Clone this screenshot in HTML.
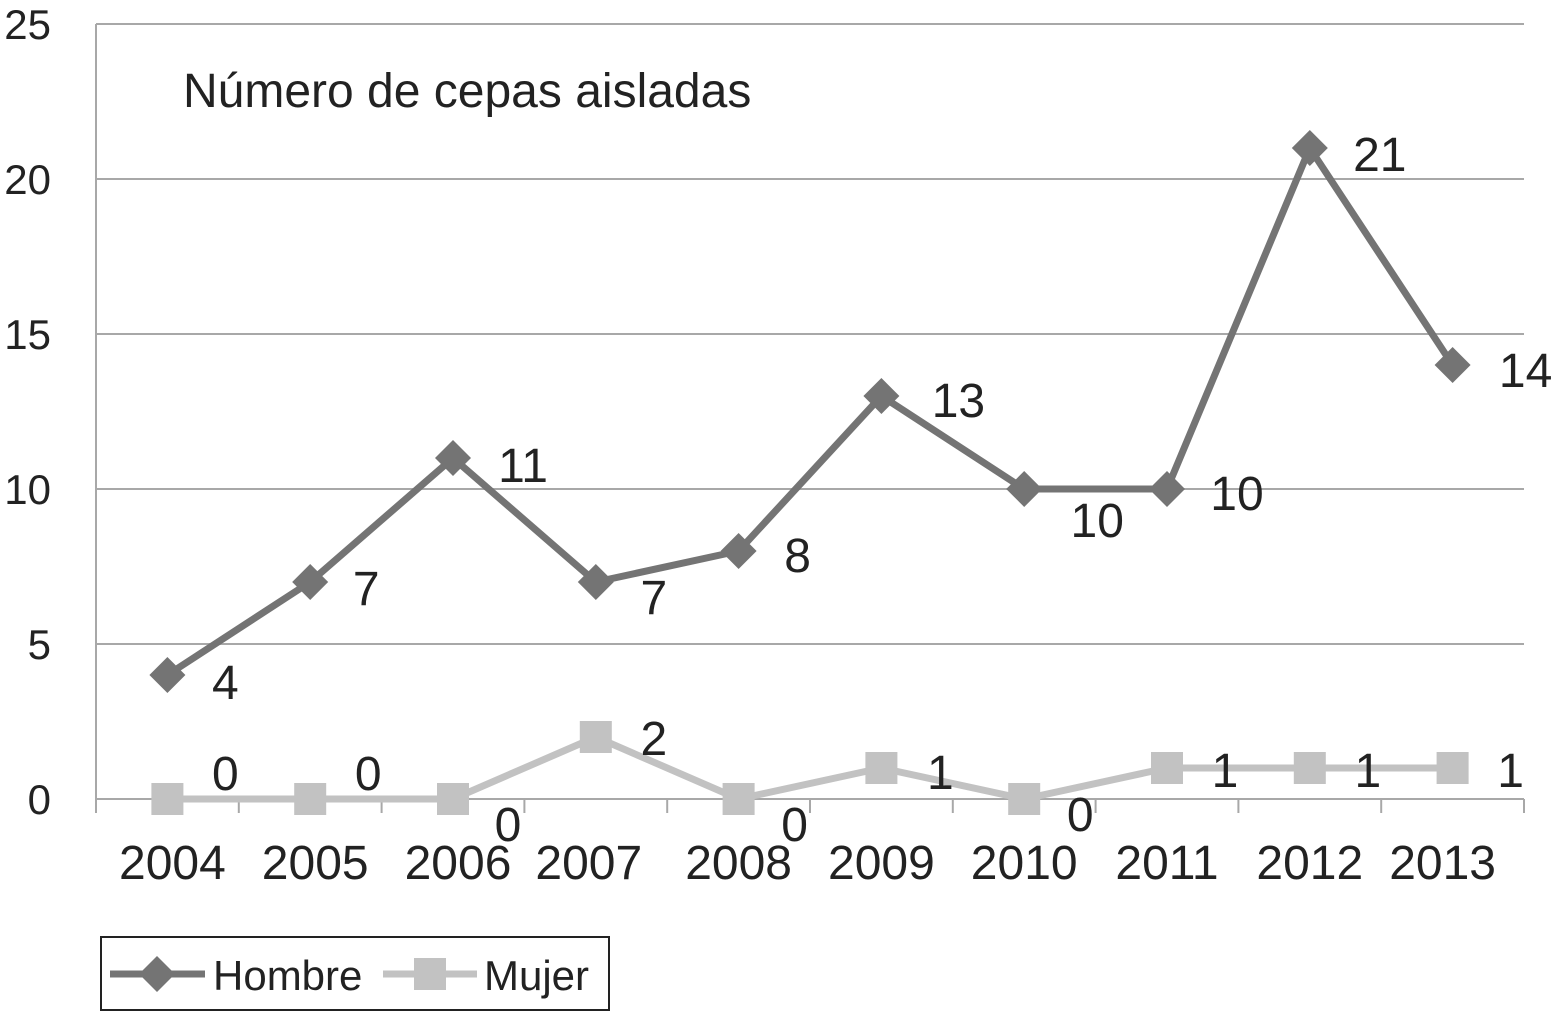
<!DOCTYPE html>
<html><head><meta charset="utf-8"><style>
html,body{margin:0;padding:0;background:#fff;}
svg{display:block;font-family:"Liberation Sans",Arial,sans-serif;}
</style></head><body>
<svg id="chart" width="1552" height="1013" viewBox="0 0 1552 1013"></svg>
<script>
const categories=["2004","2005","2006","2007","2008","2009","2010","2011","2012","2013"];
const hombre=[4,7,11,7,8,13,10,10,21,14];
const mujer=[0,0,0,2,0,1,0,1,1,1];
const yTicks=[0,5,10,15,20,25];
const hLabelOff=[[58,7],[56,6],[70,7],[58,15],[59,4],[77,4],[73,31],[70,4],[70,6],[73,5]];
const mLabelOff=[[58,-26],[58,-26],[55,25],[58,1],[56,25],[59,4],[56,15],[58,2],[58,2],[58,2]];
const NS="http://www.w3.org/2000/svg";
const svg=document.getElementById('chart');
const L=96,R=1524,Y0=799,Ymax=24;
const step=(R-L)/categories.length;
function x(i){return L+step*(i+0.5);}
function y(v){return Y0-(Y0-Ymax)*v/25;}
function mk(t,a,p){const e=document.createElementNS(NS,t);for(const k in a)e.setAttribute(k,a[k]);(p||svg).appendChild(e);return e;}
yTicks.forEach(v=>{
  const g=mk('line',{x1:L,x2:R,y1:y(v),y2:y(v),stroke:'#a8a8a8','stroke-width':2});
  
  
  const t=mk('text',{x:51,y:y(v)+15,'text-anchor':'end','font-size':42,fill:'#222'});
  t.textContent=v;
  
  
});
const ax=mk('line',{x1:L,x2:L,y1:Ymax,y2:Y0+14,stroke:'#a8a8a8','stroke-width':2});


for(let i=0;i<=categories.length;i++){
  const tk=mk('line',{x1:L+step*i,x2:L+step*i,y1:Y0,y2:Y0+14,stroke:'#a8a8a8','stroke-width':2});
  
  
}
categories.forEach((c,i)=>{
  const t=mk('text',{x:x(i)+(i<3?5:(i==3?-7:(i==9?-10:0))),y:879,'text-anchor':'middle','font-size':48,fill:'#222'});
  t.textContent=c;
  
  
});
const title=mk('text',{x:183,y:107,'font-size':48,fill:'#222'});
title.textContent='Número de cepas aisladas';


function series(vals,color,name,shape,offs){
  const pl=mk('polyline',{points:vals.map((v,i)=>x(i)+','+y(v)).join(' '),fill:'none',stroke:color,'stroke-width':7,'stroke-linejoin':'round'});
  
  
  vals.forEach((v,i)=>{
    const cx=x(i),cy=y(v);let m;
    if(shape==='diamond')m=mk('polygon',{points:`${cx},${cy-18} ${cx+18},${cy} ${cx},${cy+18} ${cx-18},${cy}`,fill:color});
    else m=mk('rect',{x:cx-16,y:cy-16,width:32,height:32,fill:color});
    
    
    const t=mk('text',{x:cx+offs[i][0],y:cy+offs[i][1]+17,'text-anchor':'middle','font-size':48,fill:'#222'});
    t.textContent=v;
    
    
  });
}
series(mujer,'#c2c2c2','mujer','square',mLabelOff);
series(hombre,'#747474','hombre','diamond',hLabelOff);
const lg=mk('g',{});


const box=mk('rect',{x:101,y:937,width:508,height:73,fill:'#fff',stroke:'#222','stroke-width':2},lg);


const e1=mk('g',{},lg);


mk('line',{x1:110,x2:205,y1:974,y2:974,stroke:'#747474','stroke-width':7},e1);
mk('polygon',{points:'157,956 175,974 157,992 139,974',fill:'#747474'},e1);
const t1=mk('text',{x:213,y:990,'font-size':42,fill:'#222'},e1);t1.textContent='Hombre';
const e2=mk('g',{},lg);


mk('line',{x1:383,x2:477,y1:974,y2:974,stroke:'#c2c2c2','stroke-width':7},e2);
mk('rect',{x:414,y:958,width:32,height:32,fill:'#c2c2c2'},e2);
const t2=mk('text',{x:484,y:990,'font-size':42,fill:'#222'},e2);t2.textContent='Mujer';
</script>
</body></html>
